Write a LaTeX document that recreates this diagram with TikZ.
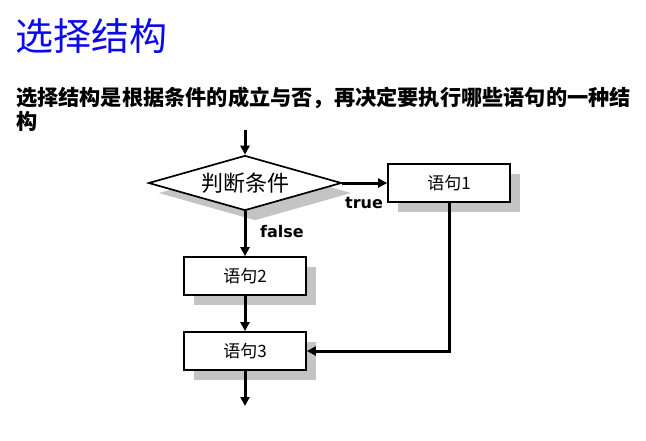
\documentclass[tikz,border=0pt]{standalone}
\usepackage{fontspec}
\newfontfamily\cjk{Noto Sans CJK SC}
\newfontfamily\labelfont{DejaVu Sans}
\setmainfont{Liberation Sans}
\usetikzlibrary{arrows.meta,shapes.geometric,shadows}
\definecolor{titleblue}{RGB}{10,10,235}
\definecolor{shadowgray}{RGB}{196,196,196}
\tikzset{
  stepbox/.style={draw=black, line width=1.7pt, fill=white, minimum width=122pt, minimum height=38pt, inner sep=0pt,
    font=\cjk\fontsize{17}{17}\selectfont,
    general shadow={fill=shadowgray, shadow xshift=10pt, shadow yshift=-10pt}},
  decision/.style={diamond, draw=black, line width=1.7pt, fill=white, minimum width=193pt, minimum height=55pt, inner sep=0pt, aspect=3.5,
    font=\cjk\fontsize{22}{22}\selectfont,
    general shadow={fill=shadowgray, shadow xshift=10pt, shadow yshift=-10pt}},
  flowarrow/.style={line width=3pt, -{Triangle[length=9pt,width=9pt]}},
  edgelabel/.style={font=\labelfont\bfseries\fontsize{16}{16}\selectfont, inner sep=0pt}
}
\begin{document}
\begin{tikzpicture}[x=1pt,y=-1pt]
\useasboundingbox (0,0) rectangle (646,440);
\node[anchor=west, inner sep=0pt, text=titleblue, font=\cjk\fontsize{38}{38}\selectfont] (title) at (15,36) {选择结构};
\node[anchor=west, inner sep=0pt, font=\cjk\bfseries\fontsize{21.2}{21.2}\selectfont] (line1) at (16,98) {选择结构是根据条件的成立与否，再决定要执行哪些语句的一种结};
\node[anchor=west, inner sep=0pt, font=\cjk\bfseries\fontsize{21.2}{21.2}\selectfont] (line2) at (16,121) {构};

\coordinate (start) at (245,130);
\node[decision] (cond) at (245,183) {判断条件};
\node[stepbox] (s1) at (449,183) {语句1};
\node[stepbox] (s2) at (245,276) {语句2};
\node[stepbox] (s3) at (245,351) {语句3};
\coordinate (finish) at (245,406);

\draw[flowarrow] (start) -- (cond.north);
\draw[flowarrow] (cond.east) -- (s1.west);
\draw[flowarrow] (cond.south) -- (s2.north);
\draw[flowarrow] (s2.south) -- (s3.north);
\draw[flowarrow] (s1.south) |- (s3.east);
\draw[flowarrow] (s3.south) -- (finish);

\node[edgelabel] (ltrue) at (364,203) {true};
\node[edgelabel] (lfalse) at (282,232) {false};
\end{tikzpicture}
\end{document}
